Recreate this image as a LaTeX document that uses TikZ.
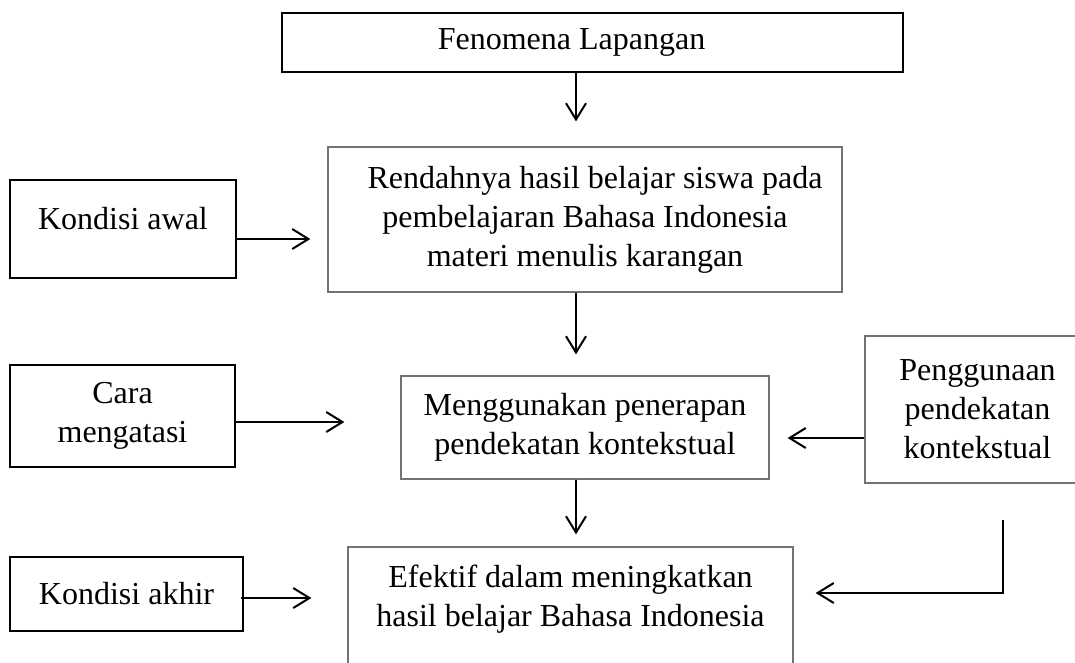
\documentclass[tikz,border=0pt]{standalone}
\usepackage{fontspec}
\setmainfont{Liberation Serif}
\usetikzlibrary{arrows.meta, calc}

\begin{document}
\begin{tikzpicture}[
    x=0.4pt, y=-0.4pt,
    font=\fontsize{12.8}{15.6}\selectfont,
    heavybox/.style={rectangle, draw=black, line width=1pt, align=center, inner sep=0pt},
    lightbox/.style={rectangle, draw=black!55, line width=0.5pt, align=center, inner sep=0pt},
    arrow/.style={-{Straight Barb[length=6.5pt, width=8pt]}, line width=0.8pt}
]
\useasboundingbox (0,0) rectangle (1075,662);
\clip (0,0) rectangle (1075,662);

\node[heavybox, minimum width=248.4pt, minimum height=23.6pt] (fenomena) at (592.5,42.5) {Fenomena Lapangan\hspace*{16.8pt}};
\node[lightbox, minimum width=205.6pt, minimum height=58pt] (rendah) at (585,219.5) {\hspace*{8pt}Rendahnya hasil belajar siswa pada\\ pembelajaran Bahasa Indonesia\\ materi menulis karangan};
\node[heavybox, minimum width=90.4pt, minimum height=39.2pt, text depth=8.4pt] (awal) at (123,229) {Kondisi awal};
\node[heavybox, minimum width=90pt, minimum height=40.8pt] (cara) at (122.5,416) {Cara\\ mengatasi};
\node[lightbox, minimum width=147.2pt, minimum height=41.2pt] (mengg) at (585,427.5) {Menggunakan penerapan\\ pendekatan kontekstual};
\node[lightbox, minimum width=90pt, minimum height=58.8pt] (pengg) at (977.5,409.5) {Penggunaan\\ pendekatan\\ kontekstual};
\node[lightbox, minimum width=178pt, minimum height=54.4pt] (efektif) at (570.5,615) {Efektif dalam meningkatkan\\ hasil belajar Bahasa Indonesia\\ ~};
\node[heavybox, minimum width=93.2pt, minimum height=29.6pt] (akhir) at (126.5,594) {Kondisi akhir};

\coordinate (midx) at (576,0);
\coordinate (bendtop) at (1003,520);

\draw[arrow, shorten >=10pt] (fenomena.south -| midx) -- (rendah.north -| midx);
\draw[arrow, shorten >=8.4pt] (rendah.south -| midx) -- (mengg.north -| midx);
\draw[arrow, shorten >=4.8pt] (mengg.south -| midx) -- (efektif.north -| midx);
\draw[arrow, shorten >=6.8pt] ($(awal.east)+(0,10)$) -- ($(rendah.west |- awal.east)+(0,10)$);
\draw[arrow, shorten >=22.4pt] ($(cara.east)+(0,6)$) -- ($(mengg.west |- cara.east)+(0,6)$);
\draw[arrow, shorten >=7.2pt] ($(pengg.west)+(0,28.5)$) -- ($(mengg.east |- pengg.west)+(0,28.5)$);
\draw[arrow, shorten >=14.4pt] ($(akhir.east)+(-3,4)$) -- ($(efektif.west |- akhir.east)+(0,4)$);
\draw[arrow, shorten >=8.8pt] (bendtop) |- ($(efektif.east)+(0,-22)$);
\end{tikzpicture}
\end{document}
